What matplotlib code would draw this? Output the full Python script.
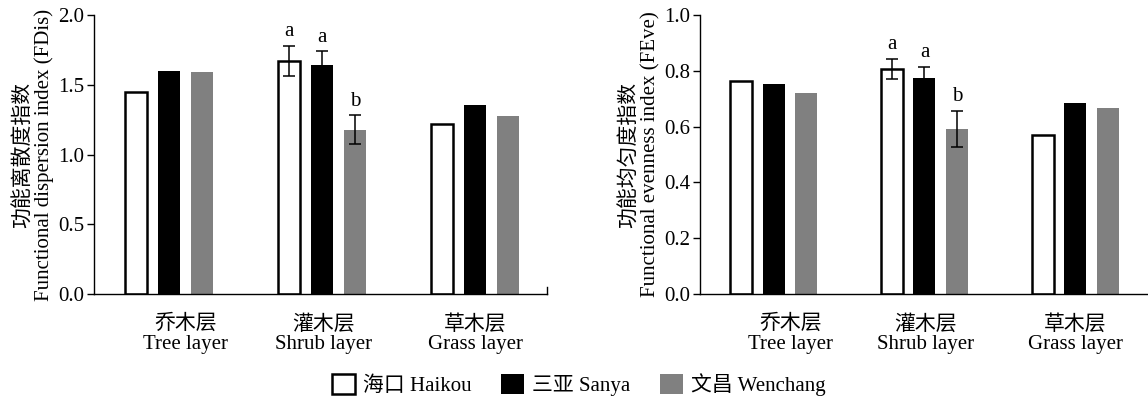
import matplotlib
matplotlib.use("Agg")
import matplotlib.pyplot as plt
import numpy as np
from matplotlib.patches import Patch

plt.rcParams['font.family'] = ['Liberation Serif', 'Noto Sans CJK SC']
plt.rcParams['axes.unicode_minus'] = False

categories = ["乔木层\nTree layer", "灌木层\nShrub layer", "草木层\nGrass layer"]
sites = ["海口 Haikou", "三亚 Sanya", "文昌 Wenchang"]

fdis_haikou = [1.45, 1.67, 1.22]
fdis_sanya = [1.60, 1.64, 1.355]
fdis_wenchang = [1.59, 1.178, 1.277]
fdis_err_haikou = [0, 0.11, 0]
fdis_err_sanya = [0, 0.10, 0]
fdis_err_wenchang = [0, 0.105, 0]

feve_haikou = [0.765, 0.807, 0.569]
feve_sanya = [0.752, 0.774, 0.685]
feve_wenchang = [0.720, 0.592, 0.667]
feve_err_haikou = [0, 0.037, 0]
feve_err_sanya = [0, 0.040, 0]
feve_err_wenchang = [0, 0.065, 0]

sig_letters = [["", "a", ""], ["", "a", ""], ["", "b", ""]]  # per site, per category

fdis_ylabel = "功能离散度指数\nFunctional dispersion index (FDis)"
feve_ylabel = "功能均匀度指数\nFunctional evenness index (FEve)"
fdis_ticks = [0.0, 0.5, 1.0, 1.5, 2.0]
feve_ticks = [0.0, 0.2, 0.4, 0.6, 0.8, 1.0]

FS = 15
W, H = 1148, 398
fig = plt.figure(figsize=(W / 100, H / 100), dpi=100)

colors = ["white", "black", "#808080"]
edges = ["black", "black", "#808080"]
lws = [1.8, 0, 0]
bw = 0.146
step = 0.216
label_shift = [0.11, 0.01, 0.0]


def panel(rect, xlim, vals, errs, ylim, ticks, ylabel, letter_off):
    ax = fig.add_axes(rect)
    x = np.arange(len(categories))
    for i in range(3):
        xi = x + (i - 1) * step
        ax.bar(xi, vals[i], width=bw, color=colors[i], edgecolor=edges[i],
               linewidth=lws[i], zorder=2)
        e = np.array(errs[i])
        m = e > 0
        ax.errorbar(xi[m], np.array(vals[i])[m], yerr=e[m], fmt='none',
                    ecolor='black', elinewidth=1.1, capsize=4, capthick=1.1, zorder=3)
        for j in range(len(categories)):
            if sig_letters[i][j]:
                ax.text(xi[j], vals[i][j] + errs[i][j] + letter_off, sig_letters[i][j],
                        ha='center', va='center', fontsize=FS)
    ax.set_xlim(*xlim)
    ax.set_ylim(*ylim)
    ax.set_yticks(ticks)
    ax.set_yticklabels([f"{t:.1f}" for t in ticks], fontsize=FS)
    ax.set_xticks(x + np.array(label_shift))
    ax.set_xticklabels(categories, fontsize=FS, linespacing=1.05)
    ax.tick_params(axis='x', length=0, pad=15)
    ax.tick_params(axis='y', direction='out', length=5, width=1, pad=2)
    for s in ['top', 'right']:
        ax.spines[s].set_visible(False)
    for s in ['left', 'bottom']:
        ax.spines[s].set_linewidth(1.0)
    ax.set_ylabel(ylabel, fontsize=FS, linespacing=1.05, labelpad=3)
    return ax


ax1 = panel([94 / W, 1 - 294 / H, 453 / W, 279 / H], (-0.49, 2.47),
            [fdis_haikou, fdis_sanya, fdis_wenchang],
            [fdis_err_haikou, fdis_err_sanya, fdis_err_wenchang],
            (0, 2.0), fdis_ticks, fdis_ylabel, 0.1)
ax1.plot([1, 1], [0, 0.025], transform=ax1.transAxes, color='black', lw=1.0, clip_on=False)

ax2 = panel([700 / W, 1 - 294 / H, 452 / W, 279 / H], (-0.49, 2.51),
            [feve_haikou, feve_sanya, feve_wenchang],
            [feve_err_haikou, feve_err_sanya, feve_err_wenchang],
            (0, 1.0), feve_ticks, feve_ylabel, 0.05)

handles = [Patch(facecolor=colors[i], edgecolor='black' if i < 2 else colors[i],
                 linewidth=1.8 if i == 0 else 0) for i in range(3)]
fig.legend(handles, sites, loc='center', bbox_to_anchor=(579 / W, 1 - 385 / H),
           ncol=3, frameon=False, fontsize=FS, handlelength=1.1, handleheight=1.1,
           handletextpad=0.4, columnspacing=1.4, borderpad=0)

fig.savefig("out.png", dpi=100)
